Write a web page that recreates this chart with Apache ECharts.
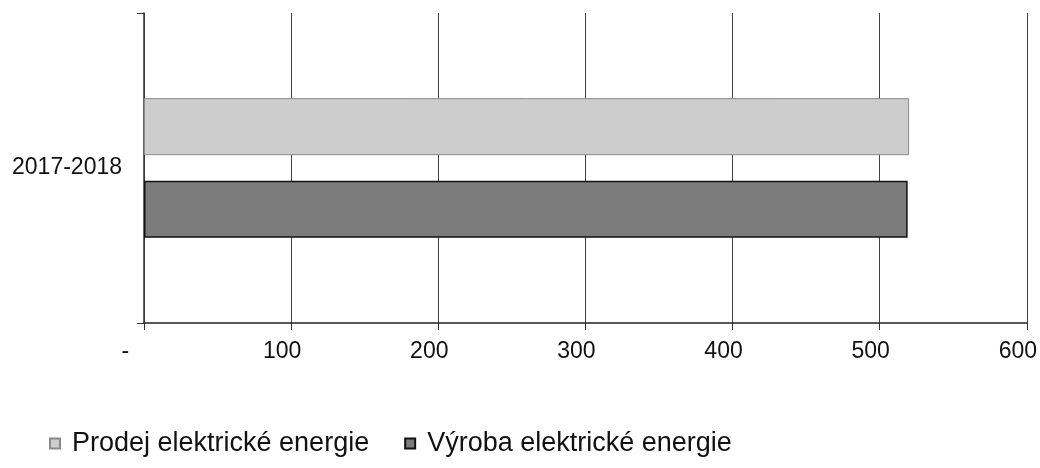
<!DOCTYPE html>
<html>
<head>
<meta charset="utf-8">
<script src="https://cdn.jsdelivr.net/npm/echarts@6/dist/echarts.min.js"></script>
<style>
  html, body { margin: 0; padding: 0; background: #fff; }
  #chart { width: 1040px; height: 468px; }
</style>
</head>
<body>
<div id="chart"></div>
<script>
const categories = ["2017-2018"];
const seriesNames = ["Prodej elektrické energie", "Výroba elektrické energie"];
const prodejValues = [520];
const vyrobaValues = [519];
const tickLabels = ["-", "100", "200", "300", "400", "500", "600"];

const FONT = "'Liberation Sans', Arial, Helvetica, sans-serif";
const chart = echarts.init(document.getElementById('chart'), null, { renderer: 'canvas' });

chart.setOption({
  animation: false,
  backgroundColor: '#ffffff',
  grid: { left: 144, right: 11, top: 13, bottom: 145, containLabel: false },
  legend: {
    data: seriesNames,
    left: 44,
    top: 425,
    itemWidth: 10,
    itemHeight: 10,
    itemGap: 35,
    icon: 'rect',
    textStyle: { fontFamily: FONT, fontSize: 27, color: '#111', padding: [0, 0, 0, 7] }
  },
  xAxis: {
    type: 'value',
    min: 0,
    max: 600,
    interval: 100,
    axisLine: { show: true, lineStyle: { color: '#222', width: 1.5 } },
    axisTick: { show: true, length: 7, lineStyle: { color: '#333' } },
    splitLine: { show: true, lineStyle: { color: '#444', width: 1 } },
    axisLabel: {
      fontFamily: FONT, fontSize: 23, color: '#111', margin: 17,
      padding: [0, 18, 0, 0],
      formatter: function (v) {
        const idx = Math.round(v / 100);
        const t = tickLabels[idx];
        return t === '-' ? '-   ' : t;
      }
    }
  },
  yAxis: {
    type: 'category',
    data: categories,
    axisLine: { show: true, lineStyle: { color: '#333', width: 1.5 } },
    axisTick: { show: true, length: 7, lineStyle: { color: '#333' } },
    axisLabel: { fontFamily: FONT, fontSize: 23, color: '#111', margin: 22 }
  },
  series: [
    {
      name: seriesNames[0],
      type: 'bar',
      data: prodejValues,
      barWidth: 57,
      barGap: '45%',
      itemStyle: { color: '#cdcdcd', borderColor: '#8a8a8a', borderWidth: 1 }
    },
    {
      name: seriesNames[1],
      type: 'bar',
      data: vyrobaValues,
      barWidth: 57,
      barGap: '45%',
      itemStyle: { color: '#7c7c7c', borderColor: '#111', borderWidth: 1.5 }
    }
  ]
});
</script>
</body>
</html>
